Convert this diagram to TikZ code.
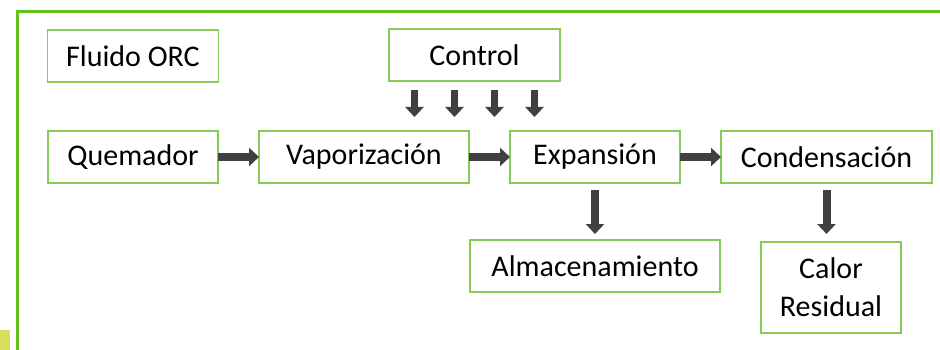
\documentclass[tikz,border=0pt]{standalone}
\usepackage{fontspec}
\setmainfont{Carlito}
\usetikzlibrary{shapes,arrows.meta,positioning}
\definecolor{marco}{HTML}{66C21A}
\definecolor{borde}{HTML}{84CC55}
\definecolor{flechagris}{HTML}{404040}
\definecolor{mancha}{HTML}{D6E05A}

\begin{document}
\begin{tikzpicture}[x=1pt, y=-1pt,
    caja/.style={rectangle, draw=borde, line width=1.5pt, align=center, outer sep=0pt,
        minimum height=52pt, inner sep=0pt, font=\fontsize{30}{38}\selectfont},
    flecha/.style={draw=flechagris, line width=8pt,
        -{Triangle[width=18pt,length=10pt]}}]

    \clip (0,0) rectangle (940,350);

    %-----Frame-----
    \draw[marco, line width=3.5pt] (950,11.5) -- (17.7,11.5) -- (17.7,360);
    \fill[mancha] (0,330) rectangle (10,350);

    %-----Blocks-----
    % Quemador
    \node [caja, minimum width=170pt] (quem) at (133,157) {Quemador};

    % Vaporizacion
    \node [caja, minimum width=210pt, right=41pt of quem] (vap) {Vaporización};

    % Expansion
    \node [caja, minimum width=170pt, right=41pt of vap] (exp) {Expansión};

    % Condensacion
    \node [caja, minimum width=211pt, right=41pt of exp] (cond) {Condensación};

    % Fluido ORC
    \node [caja, minimum width=171pt, above=49pt of quem] (fluido) {Fluido ORC};

    % Control
    \node [caja, minimum width=171pt] (ctrl) at (474.5,55) {Control};

    % Almacenamiento
    \node [caja, minimum width=250pt, below=57pt of exp] (alm) {Almacenamiento};

    % Calor Residual
    \node [caja, minimum width=140pt, minimum height=91pt, below=59pt of cond,
        xshift=4.5pt] (calor) {Calor\\Residual};

    %-----Arrows-----
    \draw[flecha] (quem) -- (vap);
    \draw[flecha] (vap) -- (exp);
    \draw[flecha] (exp) -- (cond);
    \draw[flecha, shorten <=7pt, shorten >=6pt] (exp) -- (alm);
    \draw[flecha, shorten <=7pt, shorten >=8pt] (cond) -- (cond |- calor.north);

    % Control inputs
    \foreach \dx in {-60,-20,20,60}
        \draw[flecha, line width=7pt] ([xshift=\dx pt, yshift=-9pt]ctrl.south) -- ++(0,27);

\end{tikzpicture}
\end{document}
